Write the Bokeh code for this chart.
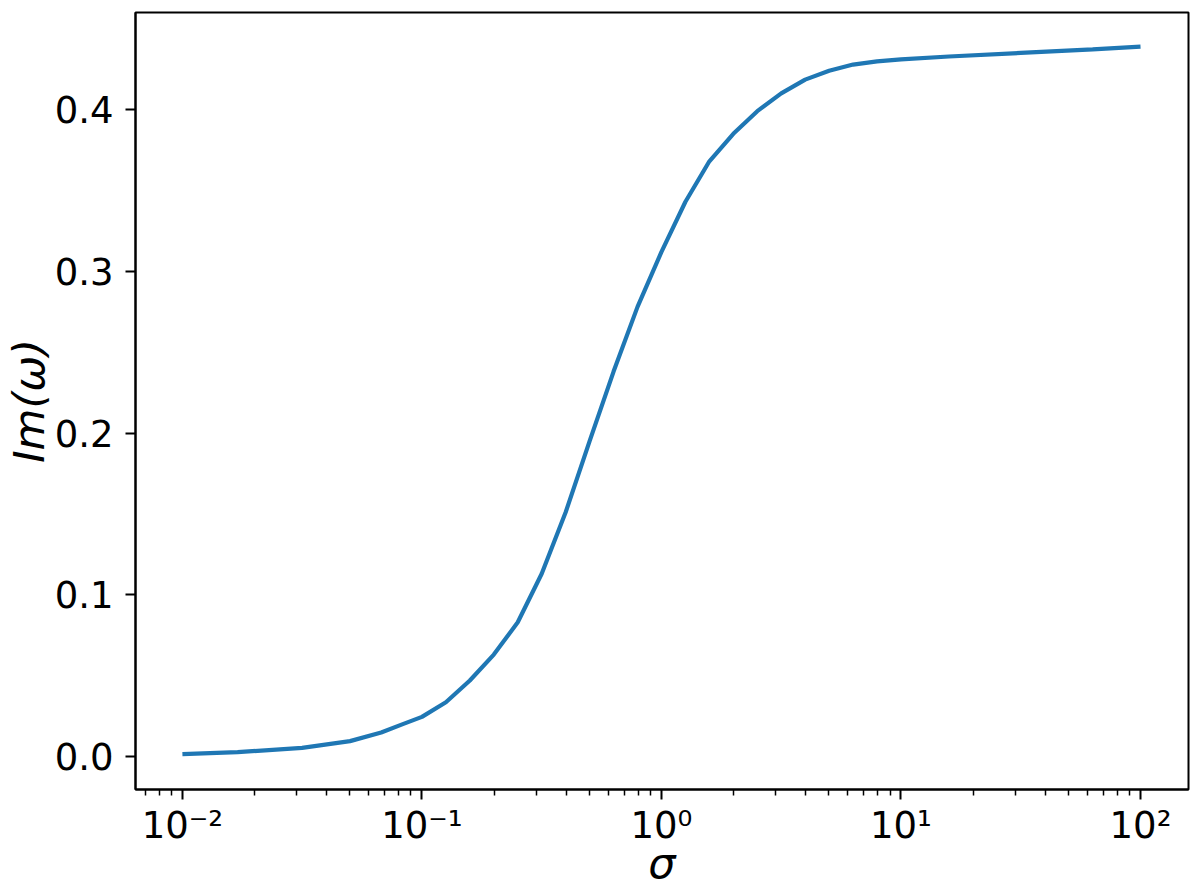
from bokeh.plotting import figure
from bokeh.models import Range1d, FixedTicker, CustomJSTickFormatter, PrintfTickFormatter
from bokeh.embed import file_html
from bokeh.resources import INLINE

# Data
sigma = [0.01, 0.017, 0.0316, 0.0501, 0.0676, 0.0832, 0.1, 0.1259, 0.1585,
         0.1995, 0.2512, 0.3162, 0.3981, 0.5012, 0.631, 0.7943, 1.0, 1.259,
         1.585, 1.995, 2.512, 3.162, 3.981, 5.012, 6.31, 7.943, 10.0, 15.85,
         31.62, 63.1, 100.0]
im_omega = [0.0015, 0.0027, 0.0053, 0.0095, 0.0148, 0.0200, 0.0245, 0.0335, 0.0470,
            0.0630, 0.0830, 0.1130, 0.1510, 0.1950, 0.2380, 0.2780, 0.3120, 0.3430,
            0.3680, 0.3850, 0.3990, 0.4100, 0.4185, 0.4240, 0.4278, 0.4298, 0.4310, 0.4328,
            0.4350, 0.4372, 0.4389]

x_ticks = [0.01, 0.1, 1, 10, 100]
y_ticks = [0.0, 0.1, 0.2, 0.3, 0.4]
x_label = "σ"
y_label = "Im(ω)"

FONT = "DejaVu Sans"

p = figure(width=1200, height=891, output_backend="svg", toolbar_location=None,
           x_axis_type="log",
           x_range=Range1d(0.00637, 158.6), y_range=Range1d(-0.0204, 0.4600),
           min_border_left=135, min_border_top=12, min_border_right=12, min_border_bottom=102)

p.line(sigma, im_omega, line_color="#1f77b4", line_width=4.2)

p.xgrid.visible = False
p.ygrid.visible = False
p.outline_line_color = "black"
p.outline_line_width = 2
p.outline_line_alpha = 1.0
p.background_fill_color = "white"
p.border_fill_color = "white"

p.xaxis.ticker = FixedTicker(ticks=x_ticks,
                             minor_ticks=[m * 10.0 ** e for e in range(-3, 3) for m in range(2, 10)])
p.xaxis.formatter = CustomJSTickFormatter(code="""
const sup = {"-":"\u207b","0":"\u2070","1":"\u00b9","2":"\u00b2","3":"\u00b3",
             "4":"\u2074","5":"\u2075","6":"\u2076","7":"\u2077","8":"\u2078","9":"\u2079"};
const e = Math.round(Math.log10(tick));
return "10" + String(e).split("").map(c => sup[c]).join("");
""")
p.yaxis.ticker = FixedTicker(ticks=y_ticks)
p.yaxis.formatter = PrintfTickFormatter(format="%.1f")

for ax in (p.xaxis[0], p.yaxis[0]):
    ax.axis_line_color = "black"
    ax.axis_line_width = 2
    ax.major_tick_line_color = "black"
    ax.major_tick_line_width = 2
    ax.major_tick_out = 10
    ax.major_tick_in = 0
    ax.minor_tick_line_color = "black"
    ax.minor_tick_line_width = 1.5
    ax.minor_tick_out = 6
    ax.minor_tick_in = 0
    ax.major_label_text_font = FONT
    ax.major_label_text_font_size = "37px"
    ax.major_label_text_color = "black"
    ax.axis_label_text_font = FONT
    ax.axis_label_text_font_size = "43px"
    ax.axis_label_text_font_style = "italic"
    ax.axis_label_text_color = "black"

p.yaxis.minor_tick_line_color = None
p.xaxis.axis_label = x_label
p.yaxis.axis_label = y_label
p.xaxis.major_label_standoff = 4
p.yaxis.major_label_standoff = 12
p.xaxis.axis_label_standoff = -12
p.yaxis.axis_label_standoff = -2

open("out.html", "w").write(file_html(p, INLINE))
